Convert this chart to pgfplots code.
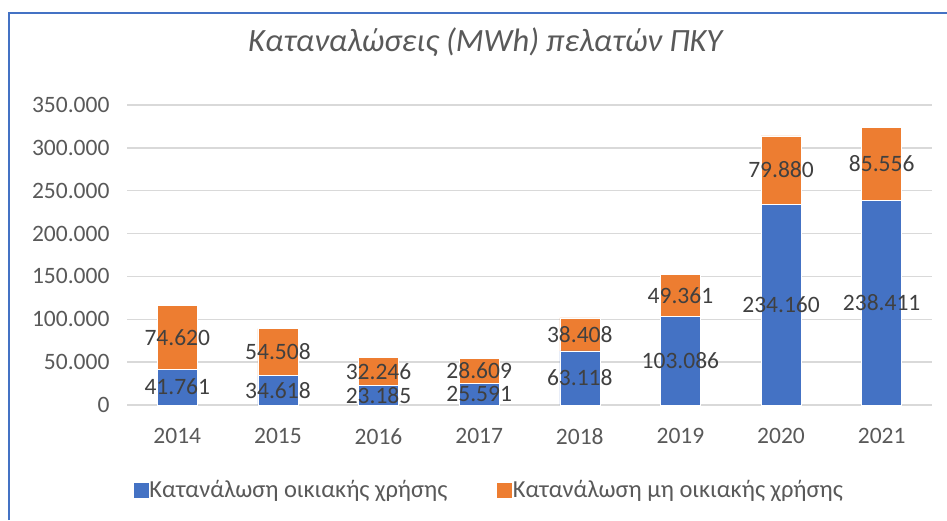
\documentclass[border=0pt]{standalone}
\usepackage{pgfplots}
\pgfplotsset{compat=1.18}
\usepackage{fontspec}
\setmainfont{Carlito}
\definecolor{cblue}{HTML}{4472C4}
\definecolor{corange}{HTML}{ED7D31}
\definecolor{tgray}{HTML}{595959}
\definecolor{lgray}{HTML}{404040}
\definecolor{gridc}{HTML}{D9D9D9}
\newcommand{\lblfont}{\fontsize{23.5}{27}\selectfont}
\begin{document}
\begin{tikzpicture}
\path[use as bounding box] (0,0) rectangle (947pt,520pt);
\draw[cblue, line width=2pt] (8.5pt,0) -- (8.5pt,506.5pt) -- (947pt,506.5pt);
\begin{axis}[
  at={(127pt,115pt)}, anchor=south west,
  scale only axis, width=805pt, height=300pt,
  ybar stacked, bar width=40pt,
  xmin=-0.5, xmax=7.5, ymin=0, ymax=350000,
  scaled y ticks=false,
  xtick={0,1,2,3,4,5,6,7},
  xticklabels={2014,2015,2016,2017,2018,2019,2020,2021},
  ytick={0,50000,100000,150000,200000,250000,300000,350000},
  yticklabels={0,50.000,100.000,150.000,200.000,250.000,300.000,350.000},
  axis line style={draw=none},
  ymajorgrids, major grid style={gridc, line width=1.5pt},
  major tick length=0pt,
  tick label style={font=\lblfont, text=tgray},
  yticklabel style={xshift=-14pt},
  xticklabel style={yshift=-20pt},
  title={Καταναλώσεις (MWh) πελατών ΠΚΥ},
  title style={at={(axis description cs:0.445,1.19)}, anchor=center,
    font=\itshape\fontsize{32.5}{38}\selectfont, text=tgray},
  legend columns=2,
  legend style={at={(axis description cs:0.4497,-0.283)}, anchor=center, draw=none,
    font=\fontsize{24.5}{28}\selectfont, text=tgray, nodes={inner sep=1.5pt},
    /tikz/column 2/.style={column sep=48pt}},
]
\addplot[fill=cblue, draw=white, line width=0.4pt,
  legend image code/.code={\fill[cblue] (0pt,-7pt) rectangle (14pt,7pt);}]
  coordinates {(0,41761) (1,34618) (2,23185) (3,25591) (4,63118) (5,103086) (6,234160) (7,238411)};
\addlegendentry{Κατανάλωση οικιακής χρήσης}
\addplot[fill=corange, draw=white, line width=0.4pt,
  legend image code/.code={\fill[corange] (0pt,-7pt) rectangle (14pt,7pt);}]
  coordinates {(0,74620) (1,54508) (2,32246) (3,28609) (4,38408) (5,49361) (6,79880) (7,85556)};
\addlegendentry{Κατανάλωση μη οικιακής χρήσης}
\end{axis}
\begin{axis}[
  at={(127pt,115pt)}, anchor=south west,
  scale only axis, width=805pt, height=300pt,
  xmin=-0.5, xmax=7.5, ymin=0, ymax=350000,
  hide axis, clip=false,
]
\addplot[only marks, mark=none, nodes near coords, point meta=explicit symbolic,
  every node near coord/.append style={anchor=center, font=\lblfont, text=lgray}]
  coordinates {
  (0,20880.5) [41.761] (1,17309) [34.618] (2,11592.5) [23.185] (3,12795.5) [25.591]
  (4,31559) [63.118] (5,51543) [103.086] (6,117080) [234.160] (7,119205.5) [238.411]
  (0,79071) [74.620] (1,61872) [54.508] (2,39308) [32.246] (3,39895.5) [28.609]
  (4,82322) [38.408] (5,127766.5) [49.361] (6,274100) [79.880] (7,281189) [85.556]
  };
\end{axis}
\end{tikzpicture}
\end{document}
